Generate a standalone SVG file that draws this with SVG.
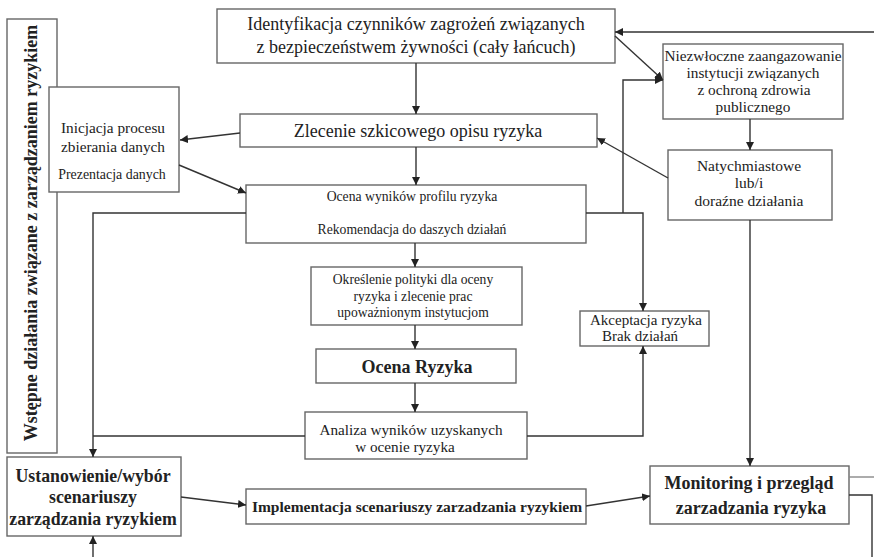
<svg xmlns="http://www.w3.org/2000/svg" width="874" height="557" viewBox="0 0 874 557">
<defs>
<marker id="ah" viewBox="0 0 10 10" refX="10" refY="5" markerWidth="8" markerHeight="8" markerUnits="userSpaceOnUse" orient="auto">
<path d="M0,0 L10,5 L0,10 z" fill="#222"/>
</marker>
<style>
.box{fill:#fff;stroke:#666;stroke-width:1.4}
.t{font-family:"Liberation Serif","Times New Roman",serif;fill:#222;text-anchor:middle}
.b{font-weight:bold}
.c{fill:none;stroke:#333;stroke-width:1.4}
.ca{fill:none;stroke:#333;stroke-width:1.4;marker-end:url(#ah)}
</style>
</defs>
<rect width="874" height="557" fill="#fff"/>

<g id="n-wstepne">
<rect class="box" x="7" y="19" width="50" height="434"/>
<text class="t b" font-size="18" transform="translate(37,233) rotate(-90)">Wstępne działania związane z zarządzaniem ryzykiem</text>
</g>

<g id="n-identyfikacja">
<rect class="box" x="217" y="9" width="398" height="54"/>
<text class="t" font-size="18" x="416" y="30">Identyfikacja czynników zagrożeń związanych</text>
<text class="t" font-size="18" x="416" y="53">z bezpieczeństwem żywności (cały łańcuch)</text>
</g>

<g id="n-inicjacja">
<rect class="box" x="49" y="87" width="130" height="105"/>
<text class="t" font-size="15.3" x="113" y="133">Inicjacja procesu</text>
<text class="t" font-size="15.3" x="113" y="152">zbierania danych</text>
<text class="t" font-size="13.9" x="112" y="179">Prezentacja danych</text>
</g>

<g id="n-zlecenie">
<rect class="box" x="240" y="114" width="357" height="33"/>
<text class="t" font-size="18" x="418" y="137">Zlecenie szkicowego opisu ryzyka</text>
</g>

<g id="n-ocena-wynikow">
<rect class="box" x="246" y="185" width="340" height="58"/>
<text class="t" font-size="13.7" x="412" y="201">Ocena wyników profilu ryzyka</text>
<text class="t" font-size="13.7" x="412" y="234">Rekomendacja do daszych działań</text>
</g>

<g id="n-okreslenie">
<rect class="box" x="311" y="267" width="211" height="58"/>
<text class="t" font-size="13.6" x="413" y="284">Określenie polityki dla oceny</text>
<text class="t" font-size="13.6" x="413" y="301">ryzyka i zlecenie prac</text>
<text class="t" font-size="13.6" x="413" y="317">upoważnionym instytucjom</text>
</g>

<g id="n-ocena-ryzyka">
<rect class="box" x="316" y="349" width="200" height="34"/>
<text class="t b" font-size="18" x="417" y="373">Ocena Ryzyka</text>
</g>

<g id="n-analiza">
<rect class="box" x="305" y="412" width="222" height="47"/>
<text class="t" font-size="15.2" x="411" y="435">Analiza wyników uzyskanych</text>
<text class="t" font-size="15.2" x="405" y="452">w ocenie ryzyka</text>
</g>

<g id="n-niezwloczne">
<rect class="box" x="663" y="44" width="180" height="75"/>
<text class="t" font-size="15.3" x="753" y="61">Niezwłoczne zaangazowanie</text>
<text class="t" font-size="15.3" x="753" y="78">instytucji związanych</text>
<text class="t" font-size="15.3" x="754" y="95">z ochroną zdrowia</text>
<text class="t" font-size="15.3" x="753" y="112">publicznego</text>
</g>

<g id="n-natychmiastowe">
<rect class="box" x="668" y="150" width="164" height="70"/>
<text class="t" font-size="15.5" x="749" y="171">Natychmiastowe</text>
<text class="t" font-size="15.5" x="749" y="188">lub/i</text>
<text class="t" font-size="15.5" x="749" y="206">doraźne działania</text>
</g>

<g id="n-akceptacja">
<rect class="box" x="580" y="311" width="129" height="35"/>
<text class="t" font-size="15" x="646" y="325">Akceptacja ryzyka</text>
<text class="t" font-size="15" x="640" y="341">Brak działań</text>
</g>

<g id="n-ustanowienie">
<rect class="box" x="7" y="457" width="174" height="79"/>
<text class="t b" font-size="17.8" x="93" y="482">Ustanowienie/wybór</text>
<text class="t b" font-size="17.8" x="93" y="503">scenariuszy</text>
<text class="t b" font-size="17.8" x="93" y="525">zarządzania ryzykiem</text>
</g>

<g id="n-implementacja">
<rect class="box" x="246" y="489" width="340" height="35"/>
<text class="t b" font-size="15.5" x="417" y="512">Implementacja scenariuszy zarzadzania ryzykiem</text>
</g>

<g id="n-monitoring">
<rect class="box" x="650" y="466" width="199" height="58"/>
<text class="t b" font-size="18" x="749" y="489">Monitoring i przegląd</text>
<text class="t b" font-size="18" x="751" y="514">zarzadzania ryzyka</text>
</g>

<g id="connectors">
<path class="ca" d="M874,32 L615,32"/>
<path class="ca" d="M615,36 L663,80"/>
<path class="ca" d="M416,63 L416,114"/>
<path class="ca" d="M240,133 L180,140"/>
<path class="ca" d="M179,165 L246,193"/>
<path class="ca" d="M416,147 L416,185"/>
<path class="ca" d="M668,178 L597,138"/>
<path class="ca" d="M750,119 L750,150"/>
<path class="ca" d="M750,220 L750,466"/>
<path class="c" d="M586,213 L623,213"/>
<path class="ca" d="M623,213 L623,80 L663,80"/>
<path class="ca" d="M623,213 L643,213 L643,311"/>
<path class="ca" d="M415,243 L415,267"/>
<path class="ca" d="M415,325 L415,349"/>
<path class="ca" d="M415,383 L415,412"/>
<path class="ca" d="M246,213 L93,213 L93,457"/>
<path class="c" d="M93,436 L305,436"/>
<path class="ca" d="M527,436 L643,436 L643,346"/>
<path class="ca" d="M93,557 L93,536"/>
<path class="ca" d="M181,497 L246,505"/>
<path class="ca" d="M586,506 L650,496"/>
<path class="c" d="M849,477 L874,477" style="stroke:#888"/>
<path class="c" d="M849,495 L872,495 L872,557"/>
</g>
</svg>
